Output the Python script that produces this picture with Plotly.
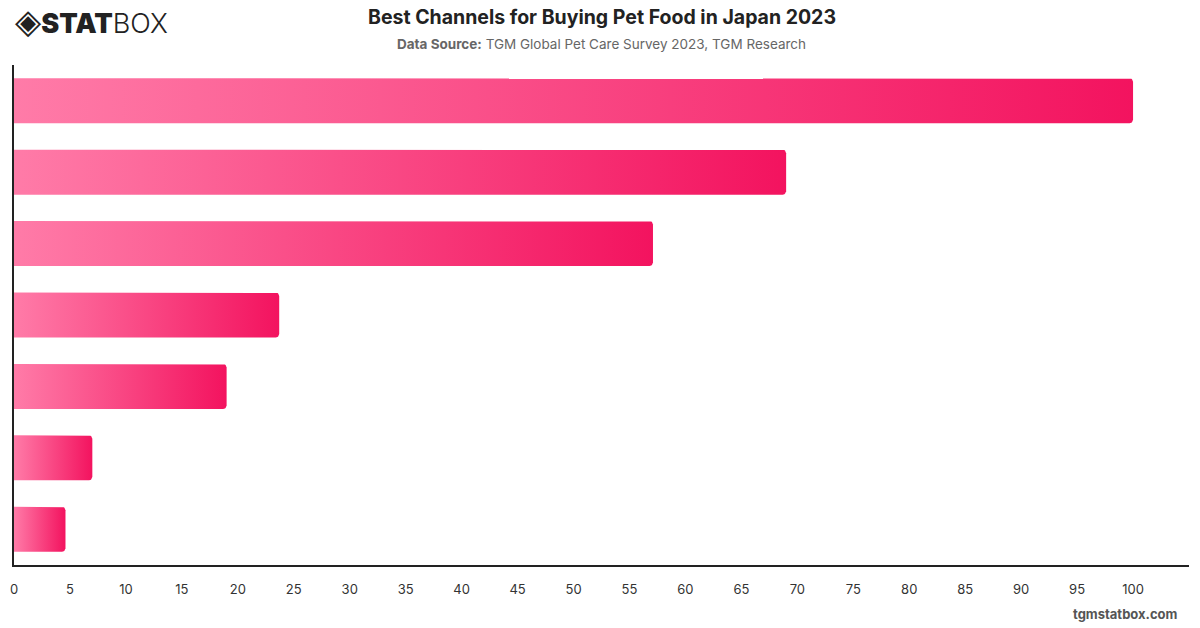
import math
import plotly.graph_objects as go

# Data
ranks = [1, 2, 3, 4, 5, 6, 7]
values = [100, 69.0, 57.1, 23.7, 19.0, 7.0, 4.6]
tick_vals = list(range(0, 101, 5))
tick_text = [str(v) for v in tick_vals]

TITLE = "Best Channels for Buying Pet Food in Japan 2023"
SUBTITLE = "<b>Data Source:</b> TGM Global Pet Care Survey 2023, TGM Research"

W, H = 1200, 628
ML, MR, MT, MB = 10, 11, 65, 63
XMAX = 105
PW, PH = W - ML - MR, H - MT - MB
px_x = PW / XMAX                       # px per x unit
px_y = PH / len(values)                # px per category
half = 0.315                           # half bar thickness (category units)
rad = 3.5                              # corner radius in px
rx, ry = rad / px_x, rad / px_y

fig = go.Figure()
for i, v in enumerate(values):
    yc = i
    xs, ys = [0], [yc - half]
    for k in range(0, 7):
        a = math.pi / 2 - (math.pi / 2) * k / 6
        xs.append(v - rx + rx * math.cos(a))
        ys.append(yc - half + ry - ry * math.sin(a))
    for k in range(0, 7):
        a = -(math.pi / 2) * k / 6
        xs.append(v - rx + rx * math.cos(a))
        ys.append(yc + half - ry - ry * math.sin(a))
    xs += [0, 0]
    ys += [yc + half, yc - half]
    fig.add_trace(go.Scatter(
        x=xs, y=ys, mode="lines", fill="toself",
        line=dict(width=0, color="rgba(0,0,0,0)"),
        fillgradient=dict(type="horizontal",
                          colorscale=[[0, "#ff7ba8"], [1, "#f3135f"]]),
        hoverinfo="skip", showlegend=False,
    ))


def px2paper(x, y):
    return (x - ML) / PW, 1 - (y - MT) / PH


def ann(text, x, y, size, color, xanchor="center", family=None):
    px_, py_ = px2paper(x, y)
    f = dict(size=size, color=color)
    if family:
        f["family"] = family
    return dict(text=text, x=px_, y=py_, xref="paper", yref="paper",
                xanchor=xanchor, yanchor="middle", showarrow=False, font=f)


fig.update_layout(
    width=W, height=H,
    margin=dict(l=ML, r=MR, t=MT, b=MB),
    paper_bgcolor="white", plot_bgcolor="white",
    font=dict(family="Inter, Roboto, sans-serif", color="#333"),
    xaxis=dict(range=[0, XMAX], tickvals=tick_vals, ticktext=tick_text,
               showgrid=False, zeroline=False, showline=True,
               linecolor="#222", linewidth=1.5, ticks="",
               ticklabelstandoff=12,
               tickfont=dict(size=13, color="#333"), fixedrange=True),
    yaxis=dict(range=[len(values) - 0.5, -0.5], showgrid=False, zeroline=False,
               showline=True, linecolor="#222", linewidth=1.5,
               showticklabels=False, ticks="", fixedrange=True),
    annotations=[
        ann("<b>" + TITLE + "</b>", 600, 17, 19.5, "#222"),
        ann(SUBTITLE, 600, 44, 13.5, "#666"),
        ann("<span style='font-size:34px'>◈</span>"
            "<span style='font-weight:900'>STAT</span>"
            "<span style='font-weight:300'>BOX</span>",
            9, 21, 27, "#222", xanchor="left",
            family="Inter, DejaVu Sans"),
        ann("<b>tgmstatbox.com</b>", 1180, 614, 13, "#555", xanchor="right"),
    ],
)

fig.write_html("out.html")
